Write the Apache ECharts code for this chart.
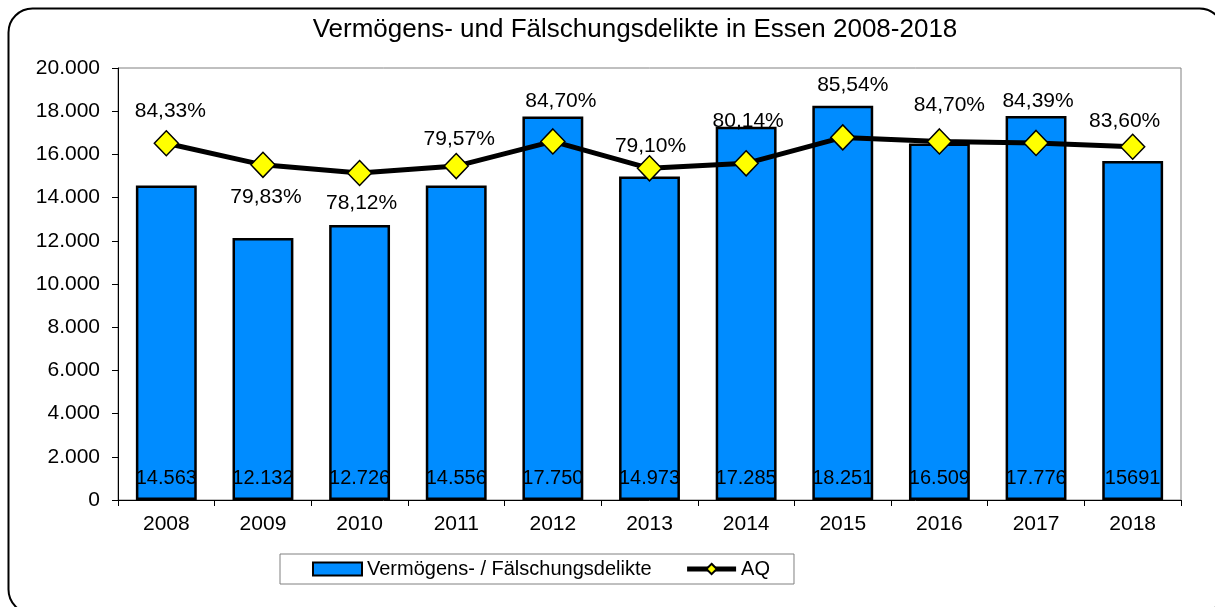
<!DOCTYPE html>
<html>
<head>
<meta charset="utf-8">
<script src="https://cdn.jsdelivr.net/npm/echarts@6/dist/echarts.min.js"></script>
<style>html,body{margin:0;padding:0;background:#fff}#c{width:1215px;height:607px}</style>
</head>
<body>
<div id="c"></div>
<script>
const years = ['2008','2009','2010','2011','2012','2013','2014','2015','2016','2017','2018'];
const cases = [14563, 12132, 12726, 14556, 17750, 14973, 17285, 18251, 16509, 17776, 15691];
const caseLabels = ['14.563','12.132','12.726','14.556','17.750','14.973','17.285','18.251','16.509','17.776','15691'];
const aq = [84.33, 79.83, 78.12, 79.57, 84.70, 79.10, 80.14, 85.54, 84.70, 84.39, 83.60];
const yTicks = [0, 2000, 4000, 6000, 8000, 10000, 12000, 14000, 16000, 18000, 20000];

// label placement (style only)
const aqLabelOffsets = [[4,-32],[3,32],[2,30],[3,-27],[8,-40],[1,-22],[2,-42],[10,-52],[10,-36],[2,-42],[-8,-26]];

const FONT = 'Liberation Sans, Arial, sans-serif';
const chart = echarts.init(document.getElementById('c'), null, {renderer:'canvas'});

function deNum(v){ return String(v).replace(/\B(?=(\d{3})+(?!\d))/g, '.'); }

chart.setOption({
  animation: false,
  textStyle: {fontFamily: FONT, color: '#000'},
  graphic: [
    {type:'rect', shape:{x:8.5, y:8.5, width:1215, height:605, r:24}, style:{fill:'none', stroke:'#000', lineWidth:2}, z:-10},
    {type:'text', x:635, y:30, style:{text:'Vermögens- und Fälschungsdelikte in Essen 2008-2018', font:'26px ' + FONT, fill:'#000', textAlign:'center', textVerticalAlign:'middle'}}
  ],
  grid: {left:118, right:34, top:68, bottom:107, show:true, borderColor:'#808080', borderWidth:1, backgroundColor:'transparent'},
  legend: {
    left: 280, top: 554,
    padding: [5, 24, 5, 32],
    borderColor: '#808080', borderWidth: 1, backgroundColor:'#fff',
    itemGap: 33, itemWidth: 49, itemHeight: 13,
    textStyle: {fontSize: 20, fontFamily: FONT, color:'#000'},
    data: [
      {name:'Vermögens- / Fälschungsdelikte', icon:'rect', itemStyle:{borderWidth:2, borderColor:'#000'}},
      {name:'AQ', lineStyle:{width:5, color:'#000'}}
    ]
  },
  xAxis: {
    type:'category', data: years,
    axisLine:{lineStyle:{color:'#000', width:1}},
    axisTick:{show:true, length:6, lineStyle:{color:'#000'}},
    axisLabel:{fontSize:21, color:'#000', margin:14, fontFamily: FONT}
  },
  yAxis: [
    {type:'value', min: yTicks[0], max: yTicks[yTicks.length-1], interval: 2000,
     axisLine:{show:true, lineStyle:{color:'#000'}},
     axisTick:{show:true, length:6, lineStyle:{color:'#000'}},
     splitLine:{show:false},
     axisLabel:{fontSize:21, color:'#000', margin:18, fontFamily: FONT, formatter: v => deNum(v)}},
    {type:'value', min:10, max:100, show:false, splitLine:{show:false}}
  ],
  series: [
    {name:'Vermögens- / Fälschungsdelikte', type:'bar', data: cases, barWidth: '63%',
     itemStyle:{color:'#008CFF', borderColor:'#000', borderWidth:2.5},
     label:{show:true, position:'insideBottom', distance:12, fontSize:20, color:'#000', fontFamily: FONT,
            formatter: p => caseLabels[p.dataIndex]}},
    {name:'AQ', type:'line', yAxisIndex:1,
     data: aq.map((v,i) => ({value:v, label:{offset: aqLabelOffsets[i]}})),
     lineStyle:{color:'#000', width:5},
     itemStyle:{color:'#FFFF00', borderColor:'#000', borderWidth:1.5},
     symbol:'diamond', symbolSize:[24,25], showAllSymbol:true,
     label:{show:true, position:'inside', fontSize:21, color:'#000', fontFamily: FONT,
            formatter: p => p.value.toFixed(2).replace('.', ',') + '%'},
     z: 5}
  ]
});
</script>
</body>
</html>
